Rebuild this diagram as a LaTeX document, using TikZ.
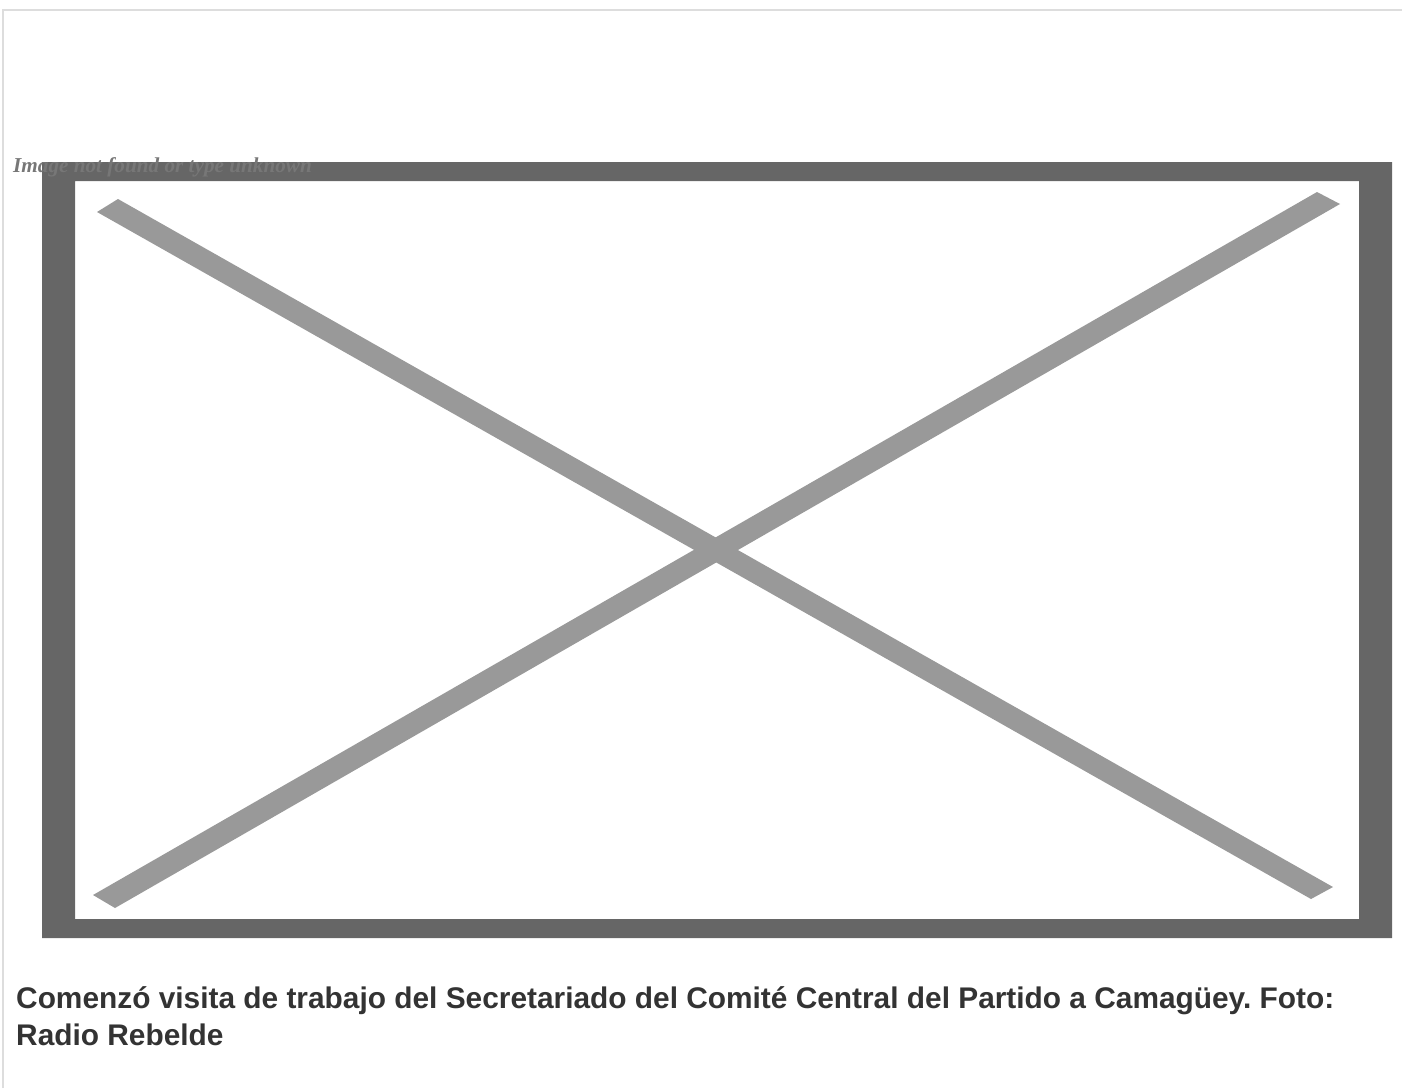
\documentclass[tikz,border=0pt]{standalone}
\usepackage{fontspec}
\setmainfont{Liberation Serif}
\newfontfamily\captionfont{Liberation Sans}
\usepackage{xcolor}
\usepackage{tikz}
\frenchspacing
\definecolor{pageEdge}{HTML}{DDDDDD}
\definecolor{frameGray}{HTML}{666666}
\definecolor{crossGray}{HTML}{999999}
\definecolor{altText}{HTML}{777777}
\definecolor{captionText}{HTML}{333333}
\tikzset{
  pageLine/.style={draw=pageEdge, line width=2pt},
  brokenFrame/.style={fill=frameGray},
  crossBar/.style={fill=crossGray},
  altLabel/.style={text=altText, font=\fontsize{21.2}{24}\selectfont\bfseries\itshape, inner sep=0pt},
  captionLabel/.style={text=captionText, font=\captionfont\fontsize{29.85}{37}\selectfont\bfseries, align=left, inner sep=0pt}
}

\begin{document}
\begin{tikzpicture}[x=1pt, y=-1pt]
  \useasboundingbox (0,0) rectangle (1402,1088);

  % page edges
  \draw[pageLine] (3,1088) -- (3,10) -- (1402,10);

  % missing picture placeholder
  \fill[brokenFrame, even odd rule] (42,162) rectangle (1392,938)
    (75,181) rectangle (1359,919);
  \fill[crossBar] (97,212) -- (118,199) -- (1333,887) -- (1311,899) -- cycle;
  \fill[crossBar] (93,895) -- (115,908) -- (1340,204) -- (1317,192) -- cycle;

  \node[altLabel, anchor=base west] (alt) at (13,172) {Image not found or type unknown};

  \node[captionLabel, anchor=base west] (caption) at (16,1045)
    {Comenzó visita de trabajo del Secretariado del Comité Central del Partido a Camagüey. Foto:\\Radio Rebelde};
\end{tikzpicture}
\end{document}
